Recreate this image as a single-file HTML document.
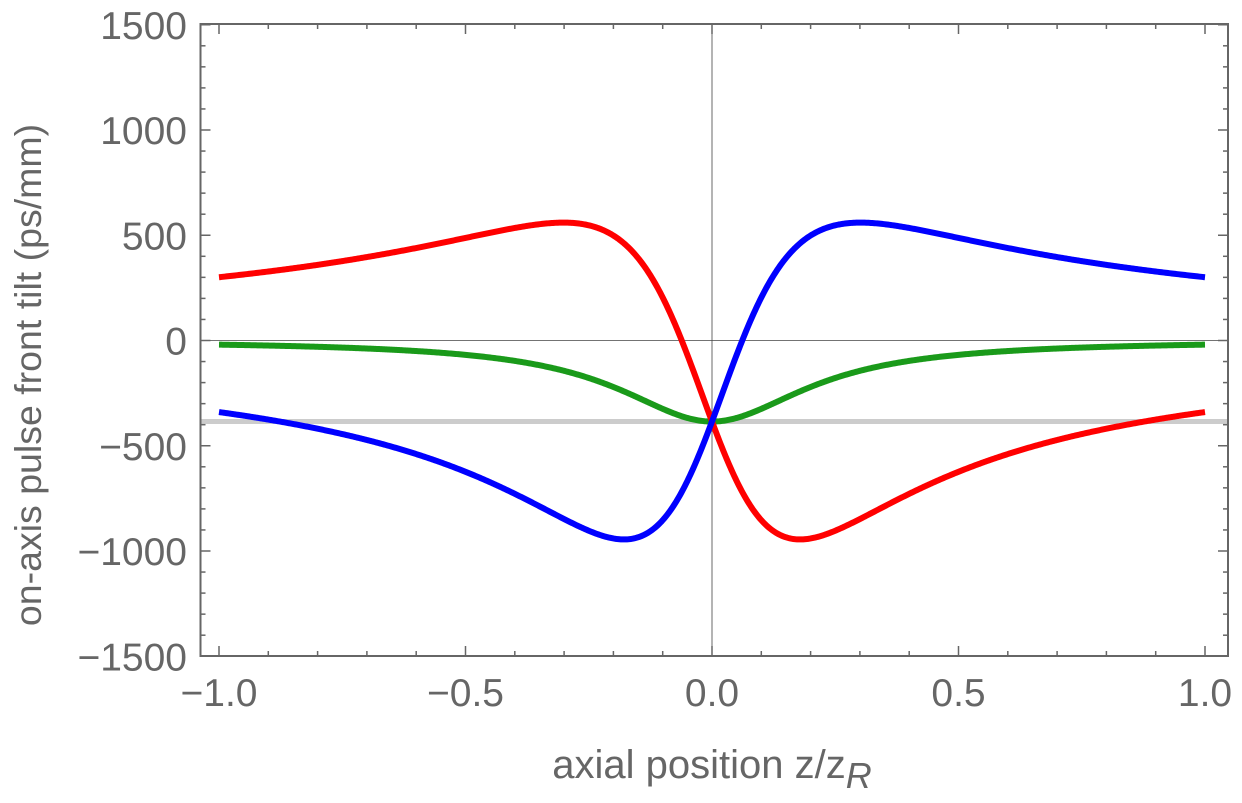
<!DOCTYPE html>
<html><head><meta charset="utf-8"><style>
body{margin:0;background:#fff}
svg text{font-family:"Liberation Sans",sans-serif;fill:#666}
</style></head><body>
<svg id="s" width="1242" height="798" xmlns="http://www.w3.org/2000/svg">
<g id="g"></g>
</svg>
<script>
const X=z=>712+z*493, Y=v=>340.5-v*0.2105;
let h='';
const L=200.5,R=1228,T=24,B=656;
h+=`<line x1="${L}" x2="${R}" y1="${Y(0)}" y2="${Y(0)}" stroke="#444" stroke-width="0.8"/>`;
h+=`<line x1="${X(0)}" x2="${X(0)}" y1="${T}" y2="${B}" stroke="#444" stroke-width="0.8"/>`;
h+=`<line x1="${L}" x2="${R}" y1="${Y(-385)}" y2="${Y(-385)}" stroke="#ccc" stroke-width="5"/>`;
function path(f,c){let d='';for(let i=0;i<=800;i++){const z=-1+2*i/800;d+=(i?'L':'M')+X(z).toFixed(2)+','+Y(f(z)).toFixed(2);}return `<path d="${d}" fill="none" stroke="${c}" stroke-width="6"/>`;}
const w=0.232,C=1455;
h+=path(z=>{const u=z/w;return -385/(1+u*u)},'#1a9a1a');
h+=path(z=>{const u=z/w;return (-385-C*u)/(1+u*u)},'#f00');
h+=path(z=>{const u=z/w;return (-385+C*u)/(1+u*u)},'#00f');
h+=`<rect x="${L}" y="${T}" width="${R-L}" height="${B-T}" fill="none" stroke="#666" stroke-width="2"/>`;
for(let i=-10;i<=10;i++){const x=X(i/10),m=i%5==0,l=m?10:5;
h+=`<line x1="${x}" x2="${x}" y1="${B}" y2="${B-l}" stroke="#666" stroke-width="1.5"/><line x1="${x}" x2="${x}" y1="${T}" y2="${T+l}" stroke="#666" stroke-width="1.5"/>`;
if(m){const v=i/10;h+=`<text x="${x}" y="${B+50}" font-size="39" text-anchor="middle">${(v<0?'\u2212':'')+Math.abs(v).toFixed(1)}</text>`;}}
for(let i=-15;i<=15;i++){const y=Y(i*100),m=i%5==0,l=m?10:5;
h+=`<line x1="${L}" x2="${L+l}" y1="${y}" y2="${y}" stroke="#666" stroke-width="1.5"/><line x1="${R}" x2="${R-l}" y1="${y}" y2="${y}" stroke="#666" stroke-width="1.5"/>`;
if(m){const v=i*100;h+=`<text x="${187}" y="${y+14}" font-size="39" text-anchor="end">${(v<0?'\u2212':'')+Math.abs(v)}</text>`;}}
h+=`<text x="712" y="778" font-size="40" text-anchor="middle">axial position z/z<tspan font-style="italic" dy="10" font-size="36">R</tspan></text>`;
h+=`<text transform="translate(41,375) rotate(-90)" font-size="37.5" text-anchor="middle">on-axis pulse front tilt (ps/mm)</text>`;
document.getElementById('g').innerHTML=h;
</script>
</body></html>
